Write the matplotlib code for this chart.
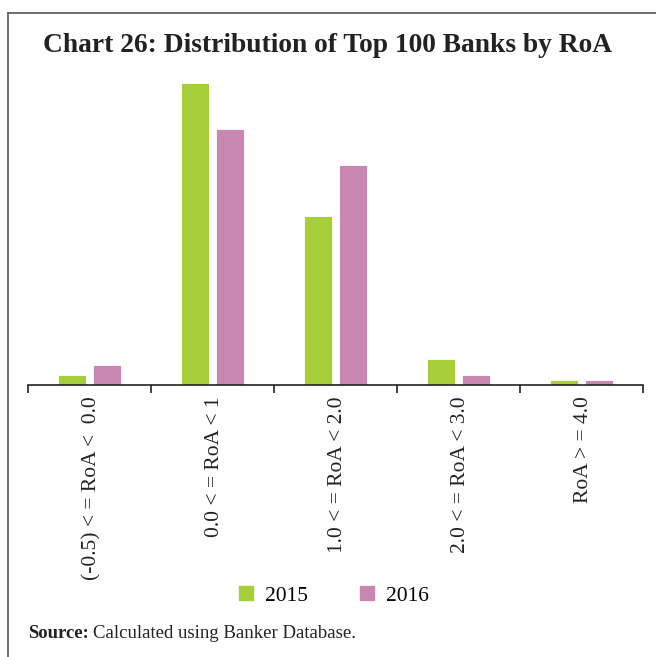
import matplotlib.pyplot as plt
import numpy as np
from matplotlib.lines import Line2D

categories = ['(-0.5) < = RoA <  0.0', '0.0 < = RoA < 1', '1.0 < = RoA < 2.0',
              '2.0 < = RoA < 3.0', 'RoA > = 4.0']
banks_2015 = [2, 59, 33, 5, 1]
banks_2016 = [4, 50, 43, 2, 1]

green = '#A6CE39'
pink = '#C986B1'
serif = ['Liberation Serif', 'DejaVu Serif']

fig = plt.figure(figsize=(6.56, 6.57), dpi=100)
ax = fig.add_axes([28 / 656, 1 - 385 / 657, (643 - 28) / 656, (385 - 68) / 657])

x = np.arange(len(categories))
w = 0.225
ax.bar(x - 0.143, banks_2015, w, color=green, edgecolor='white', linewidth=0.6, label='2015')
ax.bar(x + 0.143, banks_2016, w, color=pink, edgecolor='white', linewidth=0.6, label='2016')

ax.set_xlim(-0.5, len(categories) - 0.5)
ax.set_ylim(0, 62)
for s in ['top', 'right', 'left']:
    ax.spines[s].set_visible(False)
ax.spines['bottom'].set_color('#222222')
ax.spines['bottom'].set_linewidth(1.2)
ax.set_yticks([])

# tick marks on category boundaries, labels at centres
ax.set_xticks(np.arange(-0.5, len(categories)), minor=False)
ax.set_xticklabels([])
ax.tick_params(axis='x', direction='out', length=6, width=1.2, color='#222222')
for i, lab in enumerate(categories):
    ax.text(i + 0.02, -2.2, lab, rotation=90, ha='center', va='top', fontsize=15.5,
            family=serif, color='#222222')

fig.text(0.5, 1 - 45 / 657, 'Chart 26: Distribution of Top 100 Banks by RoA',
         ha='center', va='center', fontsize=19.8, fontweight='bold', family=serif,
         color='#222222')

handles = [plt.Rectangle((0, 0), 1, 1, color=green), plt.Rectangle((0, 0), 1, 1, color=pink)]
fig.legend(handles, ['2015', '2016'], loc='center', bbox_to_anchor=(334 / 656, 1 - 596 / 657),
           ncol=2, frameon=False, prop={'family': serif, 'size': 15.5},
           handlelength=0.65, handleheight=0.65, columnspacing=2.45, handletextpad=0.55)

t = fig.text(28 / 656, 1 - 634 / 657, 'Source:', ha='left', va='center', fontsize=13.5,
             fontweight='bold', family=serif, color='#222222')
fig.canvas.draw()
bb = t.get_window_extent()
fig.text(bb.x1 / fig.bbox.width + 0.006, 1 - 634 / 657, 'Calculated using Banker Database.',
         ha='left', va='center', fontsize=13.5, family=serif, color='#222222')

# frame lines
fig.add_artist(Line2D([8 / 656, 8 / 656], [0, 1 - 13 / 657], color='#555555', lw=1.2))
fig.add_artist(Line2D([8 / 656, 1], [1 - 13 / 657, 1 - 13 / 657], color='#555555', lw=1.2))

fig.savefig('out.png', dpi=100)
